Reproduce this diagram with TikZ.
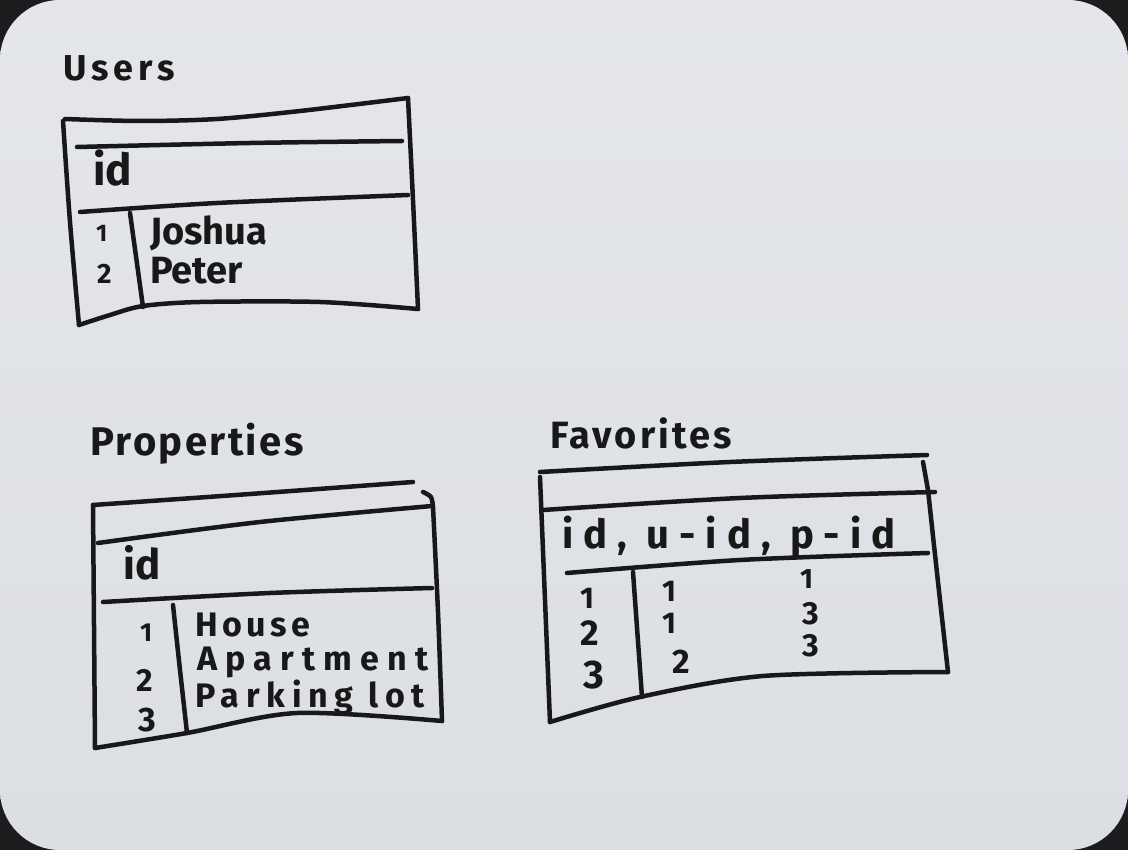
\documentclass[tikz,border=0pt]{standalone}
\usepackage{fontspec}
\setmainfont{Fira Sans}
\definecolor{board}{RGB}{219,222,227}
\definecolor{boardlight}{RGB}{228,230,234}
\definecolor{frame}{RGB}{28,28,30}
\definecolor{inkc}{RGB}{24,24,24}
\newcommand{\spaced}[2]{{\addfontfeature{LetterSpace=#1}#2}}
\begin{document}
\begin{tikzpicture}[x=1pt,y=-1pt,
  ink/.style={draw=inkc, line width=4.5pt, line cap=round, line join=round},
  hand/.style={inner sep=0pt, anchor=base west, text=inkc, font=\bfseries\fontsize{#1}{#1}\selectfont},
  hand/.default=36,
]
\useasboundingbox (0,0) rectangle (1128,850);
% whiteboard and its frame
\fill[frame] (0,0) rectangle (1128,850);
\shade[top color=boardlight, bottom color=board, rounded corners=60pt] (0,0) rectangle (1128,850);

% ---------- Users ----------
\node[hand=36] (utitle) at (63,81) {\spaced{14}{Users}};
\draw[ink] plot[smooth] coordinates {(65,119) (140,121) (217,119) (300,111) (408,98)};
\draw[ink] plot[smooth] coordinates {(408,98) (413,200) (418,309)};
\draw[ink] plot[smooth] coordinates {(418,309) (320,302) (200,302) (143,306) (110,315) (79,325)};
\draw[ink] plot[smooth] coordinates {(79,325) (70,222) (63,121)};
\draw[ink] plot[smooth] coordinates {(77,147) (250,143) (402,141)};
\draw[ink] plot[smooth] coordinates {(80,212) (217,203) (408,195)};
\draw[ink] (130,213) -- (143,307);
\node[hand=44] (uid) at (93,186) {id};
\node[hand=24] (u1) at (96,242) {1};
\node[hand=28] (u2) at (97,284) {2};
\node[hand=38] (uname1) at (150,245) {Joshua};
\node[hand=38] (uname2) at (150,284) {Peter};

% ---------- Properties ----------
\node[hand=40] (ptitle) at (90,455) {\spaced{6}{Properties}};
\draw[ink] plot[smooth] coordinates {(93,505) (250,494) (413,482)};
\draw[ink] plot[smooth] coordinates {(423,492) (431,497) (433,507)};
\draw[ink] plot[smooth] coordinates {(433,507) (438,612) (442,721)};
\draw[ink] plot[smooth] coordinates {(98,543) (260,522) (432,506)};
\draw[ink] plot[smooth] coordinates {(103,602) (270,593) (432,588)};
\draw[ink] plot[smooth] coordinates {(93,505) (94,625) (95,748)};
\draw[ink] plot[smooth] coordinates {(95,748) (187,733) (297,713) (442,721)};
\draw[ink] plot[smooth] coordinates {(173,605) (180,670) (187,733)};
\node[hand=42] (pid) at (123,579) {id};
\node[hand=26] (p1) at (140,641) {1};
\node[hand=32] (p2) at (136,691) {2};
\node[hand=34] (p3) at (138,731) {3};
\node[hand=34] (pname1) at (195,636) {\spaced{13}{House}};
\node[hand=34] (pname2) at (197,670) {\spaced{24}{Apartment}};
\node[hand=34] (pname3) at (195,707) {\spaced{20}{Parking lot}};

% ---------- Favorites ----------
\node[hand=38] (ftitle) at (550,448) {\spaced{8}{Favorites}};
\draw[ink] plot[smooth] coordinates {(540,472) (730,462) (927,455)};
\draw[ink] (923,462) -- (928,490);
\draw[ink] plot[smooth] coordinates {(928,490) (938,582) (948,672)};
\draw[ink] plot[smooth] coordinates {(543,510) (740,498) (935,492)};
\draw[ink] plot[smooth] coordinates {(567,573) (740,560) (928,553)};
\draw[ink] plot[smooth] coordinates {(540,477) (545,600) (550,722)};
\draw[ink] plot[smooth] coordinates {(550,722) (640,697) (763,676) (948,672)};
\draw[ink] (633,572) -- (642,697);
\node[hand=40] (fhead) at (562,548) {\spaced{25}{id, u-id, p-id}};
\node[hand=30] (f1) at (580,608) {1};
\node[hand=36] (f2) at (580,645) {2};
\node[hand=40] (f3) at (583,688) {3};
\node[hand=30] (fu1) at (662,601) {1};
\node[hand=30] (fu2) at (662,633) {1};
\node[hand=34] (fu3) at (672,673) {2};
\node[hand=28] (fp1) at (800,588) {1};
\node[hand=32] (fp2) at (802,624) {3};
\node[hand=32] (fp3) at (802,656) {3};
\end{tikzpicture}
\end{document}
